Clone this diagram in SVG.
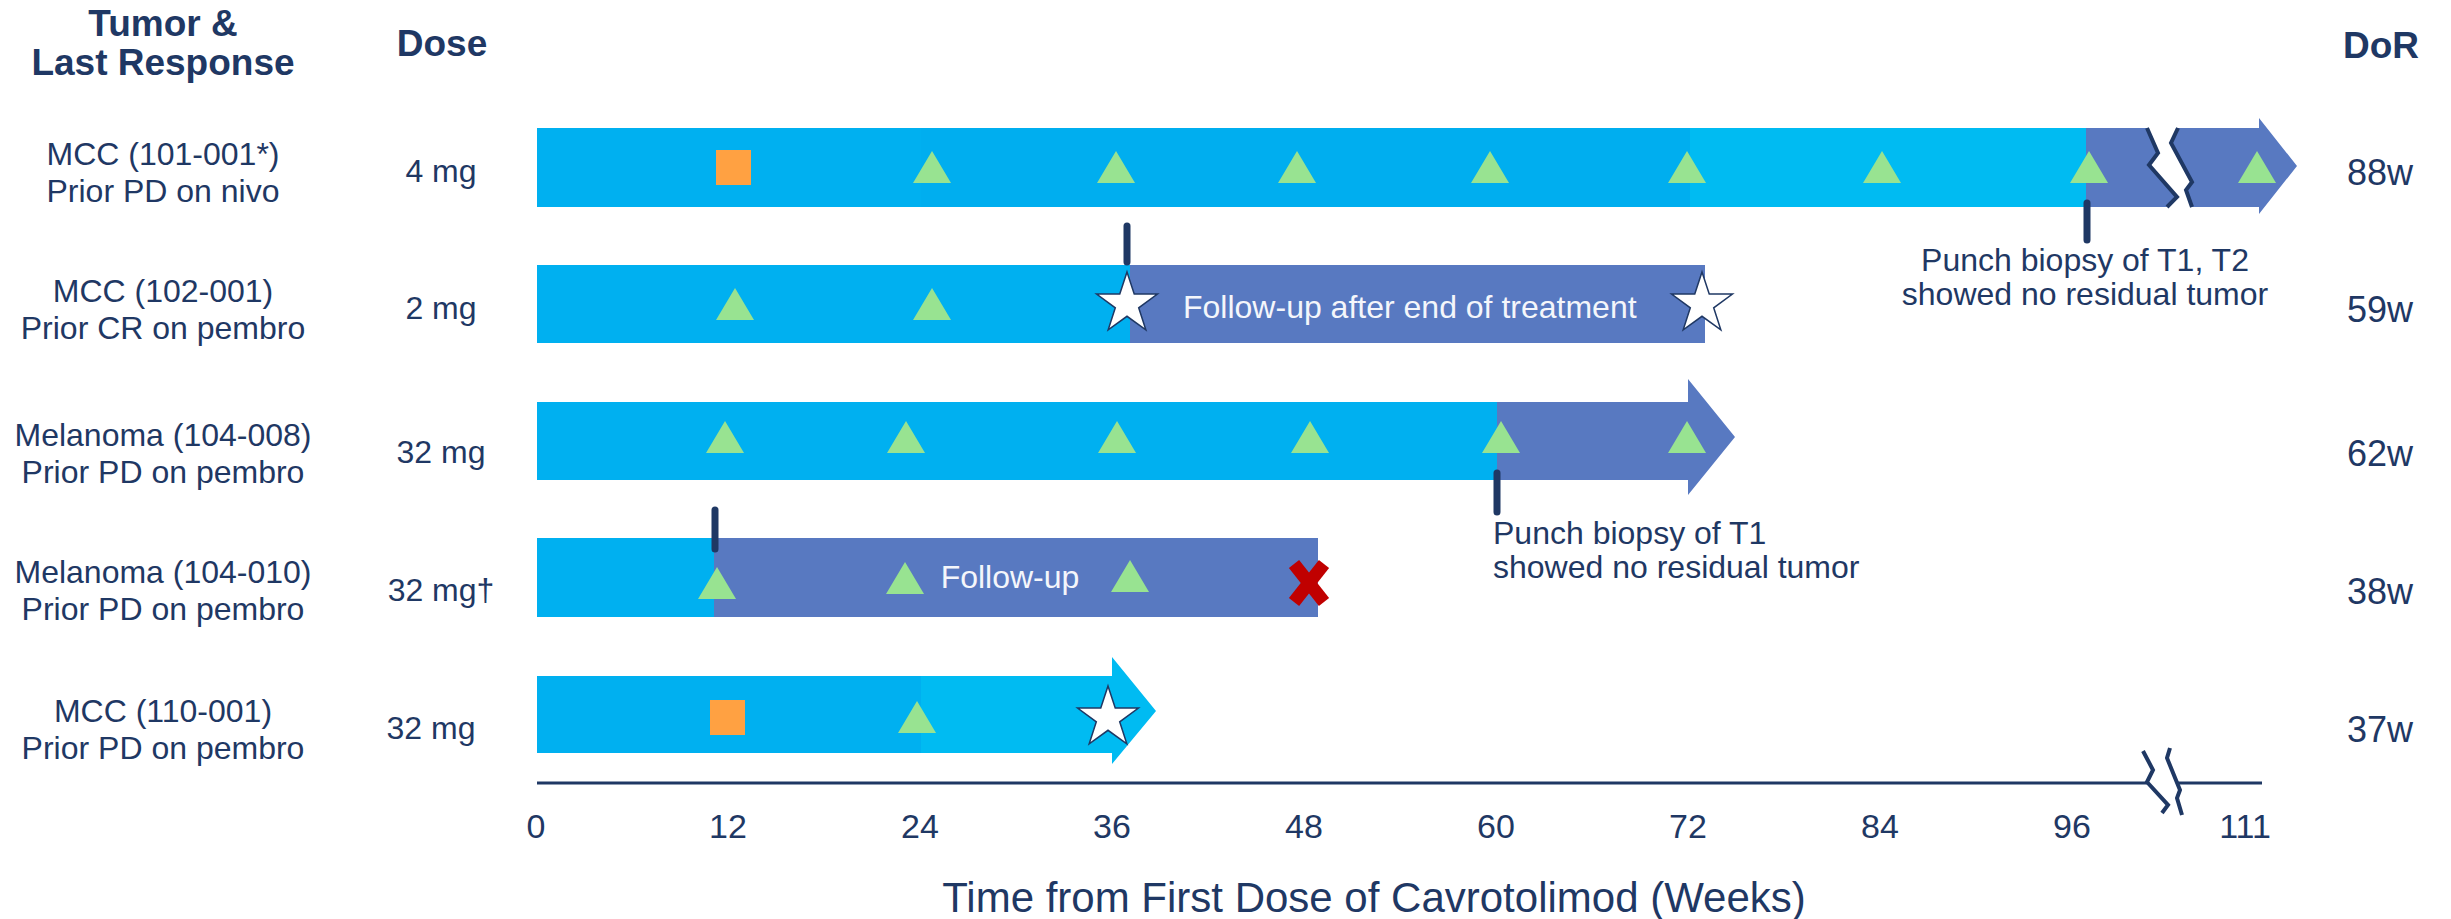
<svg xmlns="http://www.w3.org/2000/svg" width="2451" height="919" viewBox="0 0 2451 919">
<style>
text{font-family:"Liberation Sans",Arial,sans-serif;fill:#1F3864}
.hd{font-weight:bold;font-size:37px;text-anchor:middle}
.lb{font-size:32px;text-anchor:middle}
.ds{font-size:32px;text-anchor:middle}
.dr{font-size:36px;text-anchor:middle}
.ax{font-size:34px;text-anchor:middle}
.wt{font-size:32px;fill:#F4F6FB}
.nt{font-size:32px}
.b1{fill:#00B0F0}
.b2{fill:#00AEEF}
.b3{fill:#00BBF2}
.pu{fill:#5879C1}
.tri{fill:#98E391}
.sq{fill:#FFA142}
.star{fill:#FFFFFF;stroke:#1F3864;stroke-width:1.5}
.tick{stroke:#1F3864;stroke-width:7;stroke-linecap:round;fill:none}
.brk{fill:#FFFFFF;stroke:none}
.brl{fill:none;stroke:#1F3864;stroke-width:4;stroke-linejoin:miter}
</style>
<defs>
<path id="tri" d="M0,-16 L19,16 L-19,16 Z"/>
<polygon id="star" points="0,-32 7.23,-9.95 30.43,-9.89 11.7,3.8 18.81,25.89 0,12.3 -18.81,25.89 -11.7,3.8 -30.43,-9.89 -7.23,-9.95"/>
</defs>

<g id="headers">
<text class="hd" x="163" y="36">Tumor &amp;</text>
<text class="hd" x="163" y="75">Last Response</text>
<text class="hd" x="442" y="56">Dose</text>
<text class="hd" x="2381" y="58">DoR</text>
</g>

<g id="row1">
<text class="lb" x="163" y="165">MCC (101-001*)</text>
<text class="lb" x="163" y="202">Prior PD on nivo</text>
<text class="ds" x="441" y="182">4 mg</text>
<rect class="b1" x="537" y="128" width="385" height="79"/>
<rect class="b2" x="921" y="128" width="770" height="79"/>
<rect class="b3" x="1690" y="128" width="397" height="79"/>
<path class="pu" d="M2086,128 H2259 V118 L2297,166 L2259,214 V207 H2086 Z"/>
<path class="brk" d="M2147,128 L2158,153 L2149,165 L2177,197 L2167,207 L2192,207 L2186,190 L2192,182 L2171,143 L2178,128 Z"/>
<path class="brl" d="M2147,128 L2158,153 L2149,165 L2177,197 L2167,207"/>
<path class="brl" d="M2178,128 L2171,143 L2192,182 L2186,190 L2192,207"/>
<rect class="sq" x="716" y="150" width="35" height="35"/>
<use href="#tri" class="tri" x="932" y="167"/>
<use href="#tri" class="tri" x="1116" y="167"/>
<use href="#tri" class="tri" x="1297" y="167"/>
<use href="#tri" class="tri" x="1490" y="167"/>
<use href="#tri" class="tri" x="1687" y="167"/>
<use href="#tri" class="tri" x="1882" y="167"/>
<use href="#tri" class="tri" x="2089" y="167"/>
<use href="#tri" class="tri" x="2257" y="167"/>
<text class="nt" x="2085" y="271" text-anchor="middle">Punch biopsy of T1, T2</text>
<text class="nt" x="2085" y="305" text-anchor="middle">showed no residual tumor</text>
<text class="dr" x="2380" y="185">88w</text>
</g>

<g id="row2">
<text class="lb" x="163" y="302">MCC (102-001)</text>
<text class="lb" x="163" y="339">Prior CR on pembro</text>
<text class="ds" x="441" y="319">2 mg</text>
<rect class="b1" x="537" y="265" width="594" height="78"/>
<rect class="pu" x="1130" y="265" width="575" height="78"/>
<use href="#tri" class="tri" x="735" y="304"/>
<use href="#tri" class="tri" x="932" y="304"/>
<use href="#star" class="star" x="1127" y="304"/>
<text class="wt" x="1183" y="318">Follow-up after end of treatment</text>
<use href="#star" class="star" x="1702" y="304"/>
<text class="dr" x="2380" y="322">59w</text>
</g>

<g id="row3">
<text class="lb" x="163" y="446">Melanoma (104-008)</text>
<text class="lb" x="163" y="483">Prior PD on pembro</text>
<text class="ds" x="441" y="463">32 mg</text>
<rect class="b1" x="537" y="402" width="961" height="78"/>
<path class="pu" d="M1497,402 H1688 V379 L1735,437 L1688,495 V480 H1497 Z"/>
<use href="#tri" class="tri" x="725" y="437"/>
<use href="#tri" class="tri" x="906" y="437"/>
<use href="#tri" class="tri" x="1117" y="437"/>
<use href="#tri" class="tri" x="1310" y="437"/>
<use href="#tri" class="tri" x="1501" y="437"/>
<use href="#tri" class="tri" x="1687" y="437"/>
<text class="nt" x="1493" y="544">Punch biopsy of T1</text>
<text class="nt" x="1493" y="578">showed no residual tumor</text>
<text class="dr" x="2380" y="466">62w</text>
</g>

<g id="row4">
<text class="lb" x="163" y="583">Melanoma (104-010)</text>
<text class="lb" x="163" y="620">Prior PD on pembro</text>
<text class="ds" x="441" y="601">32 mg†</text>
<rect class="b1" x="537" y="538" width="178" height="79"/>
<rect class="pu" x="714" y="538" width="604" height="79"/>
<use href="#tri" class="tri" x="717" y="583"/>
<use href="#tri" class="tri" x="905" y="578"/>
<use href="#tri" class="tri" x="1130" y="576"/>
<text class="wt" x="1010" y="588" text-anchor="middle">Follow-up</text>
<g stroke="#C00000" stroke-width="13">
<line x1="1294" y1="564" x2="1324" y2="602"/>
<line x1="1324" y1="564" x2="1294" y2="602"/>
</g>
<text class="dr" x="2380" y="604">38w</text>
</g>

<g id="row5">
<text class="lb" x="163" y="722">MCC (110-001)</text>
<text class="lb" x="163" y="759">Prior PD on pembro</text>
<text class="ds" x="431" y="739">32 mg</text>
<rect class="b1" x="537" y="676" width="385" height="77"/>
<path class="b3" d="M921,676 H1112 V657 L1156,711 L1112,764 V753 H921 Z"/>
<rect class="sq" x="710" y="700" width="35" height="35"/>
<use href="#tri" class="tri" x="917" y="717"/>
<use href="#star" class="star" x="1108" y="718"/>
<text class="dr" x="2380" y="742">37w</text>
</g>

<g id="connectors">
<line class="tick" x1="2087" y1="203" x2="2087" y2="240"/>
<line class="tick" x1="1127" y1="226" x2="1127" y2="262"/>
<line class="tick" x1="1497" y1="473" x2="1497" y2="512"/>
<line class="tick" x1="715" y1="510" x2="715" y2="549"/>
</g>

<g id="axis">
<line x1="537" y1="783" x2="2262" y2="783" stroke="#1F3864" stroke-width="3"/>
<path class="brk" d="M2143,751 L2153,770 L2147,782 L2168,805 L2162,813 L2182,815 L2177,798 L2180,790 L2167,758 L2170,748 Z"/>
<path class="brl" d="M2143,751 L2153,770 L2147,782 L2168,805 L2162,813" stroke-width="3.5"/>
<path class="brl" d="M2170,748 L2167,758 L2180,790 L2177,798 L2182,815" stroke-width="3.5"/>
<text class="ax" x="536" y="838">0</text>
<text class="ax" x="728" y="838">12</text>
<text class="ax" x="920" y="838">24</text>
<text class="ax" x="1112" y="838">36</text>
<text class="ax" x="1304" y="838">48</text>
<text class="ax" x="1496" y="838">60</text>
<text class="ax" x="1688" y="838">72</text>
<text class="ax" x="1880" y="838">84</text>
<text class="ax" x="2072" y="838">96</text>
<text class="ax" x="2245" y="838">111</text>
<text x="1374" y="912" font-size="42" text-anchor="middle">Time from First Dose of Cavrotolimod (Weeks)</text>
</g>
</svg>
